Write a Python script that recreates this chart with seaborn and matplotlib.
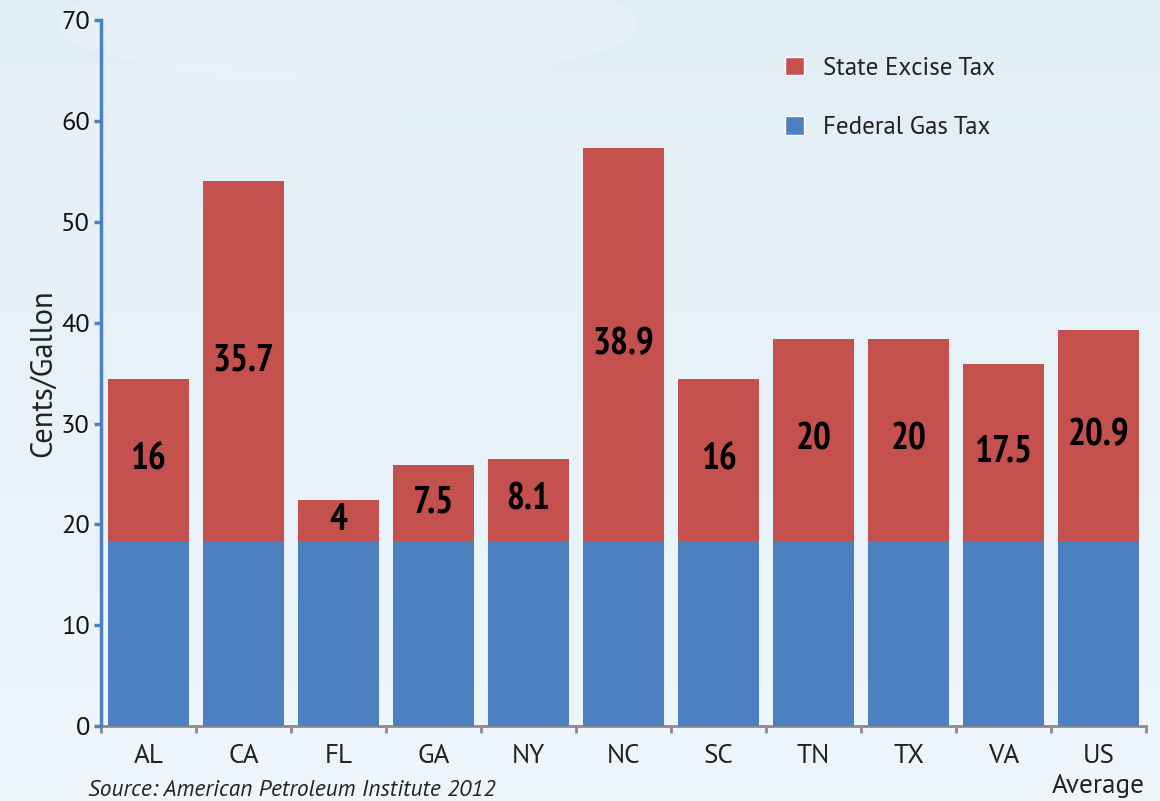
import numpy as np
import pandas as pd
import matplotlib
matplotlib.use("Agg")
import matplotlib.pyplot as plt
from matplotlib.patches import Patch, Ellipse
import seaborn as sns

states = ["AL", "CA", "FL", "GA", "NY", "NC", "SC", "TN", "TX", "VA", "US\nAverage"]
state_tax = [16, 35.7, 4, 7.5, 8.1, 38.9, 16, 20, 20, 17.5, 20.9]
federal_tax = [18.4] * 11
state_labels = ["16", "35.7", "4", "7.5", "8.1", "38.9", "16", "20", "20", "17.5", "20.9"]

RED = "#c5514e"
BLUE = "#4c80c0"

sns.set_theme(style="white")
plt.rcParams['font.family'] = ['PT Sans', 'DejaVu Sans']

df = pd.DataFrame({"state": states, "state_tax": state_tax, "federal": federal_tax})
df["total"] = df["state_tax"] + df["federal"]

fig = plt.figure(figsize=(11.6, 8.01), dpi=100)
# background gradient
bg = fig.add_axes([0, 0, 1, 1], zorder=-10)
grad = np.linspace(0, 1, 256).reshape(-1, 1)
top = np.array([0.886, 0.933, 0.965])
bot = np.array([0.937, 0.965, 0.984])
img = top[None, None, :] * (1 - grad[:, :, None]) + bot[None, None, :] * grad[:, :, None]
bg.imshow(img, aspect='auto', extent=[0, 1, 0, 1])
for (cx, cy, w, h) in [(0.3, 0.97, 0.5, 0.14), (0.05, 0.86, 0.6, 0.12)]:
    bg.add_patch(Ellipse((cx, cy), w, h, color="white", alpha=0.12, lw=0))
bg.set_xlim(0, 1); bg.set_ylim(0, 1)
bg.axis("off")

ax = fig.add_axes([0.087, 0.0936, 0.901, 0.881])
ax.patch.set_alpha(0)

sns.barplot(data=df, x="state", y="total", color=RED, width=0.86, saturation=1, ax=ax,
            zorder=2, linewidth=0, edgecolor="none")
sns.barplot(data=df, x="state", y="federal", color=BLUE, width=0.86, saturation=1, ax=ax,
            zorder=3, linewidth=0, edgecolor="none")

for i, (s, f, lab) in enumerate(zip(state_tax, federal_tax, state_labels)):
    ax.text(i, f + s / 2, lab, ha="center", va="center", fontsize=27, fontweight="bold",
            family=["PT Sans Narrow", "DejaVu Sans"], color="black", zorder=5)

ax.set_xlim(-0.5, 10.5)
ax.set_ylim(0, 70)
ax.set_yticks(range(0, 71, 10))
ax.set_xlabel("")
ax.set_ylabel("Cents/Gallon", fontsize=22, color="#222222", labelpad=3)

ax.tick_params(axis="y", labelsize=19, colors=BLUE, length=5, width=2.5, labelcolor="#111111", pad=3, left=True)
ax.tick_params(axis="x", which="major", length=0, labelsize=19.5, labelcolor="#222222", pad=13)
for t in ax.get_xticklabels():
    t.set_linespacing(1.3)
ax.set_xticks(np.arange(-0.5, 11, 1), minor=True)
ax.tick_params(axis="x", which="minor", length=5, width=2, colors="#8a8a8a", bottom=True)
ax.grid(False)

for sp in ["top", "right"]:
    ax.spines[sp].set_visible(False)
ax.spines["left"].set_color(BLUE)
ax.spines["left"].set_linewidth(2.5)
ax.spines["bottom"].set_color("#8a8a8a")
ax.spines["bottom"].set_linewidth(2)
ax.spines["left"].set_zorder(6)

handles = [Patch(facecolor=RED, label="State Excise Tax"), Patch(facecolor=BLUE, label="Federal Gas Tax")]
ax.legend(handles=handles, loc="upper left", bbox_to_anchor=(0.633, 0.98), frameon=False,
          fontsize=18, handlelength=0.75, handleheight=0.75, labelspacing=1.45, handletextpad=0.75,
          labelcolor="#222222")

fig.text(0.076, 0.0137, "Source: American Petroleum Institute 2012", fontsize=16.8, style="italic",
         color="#222222", ha="left", va="center")

fig.savefig("out.png", dpi=100)
